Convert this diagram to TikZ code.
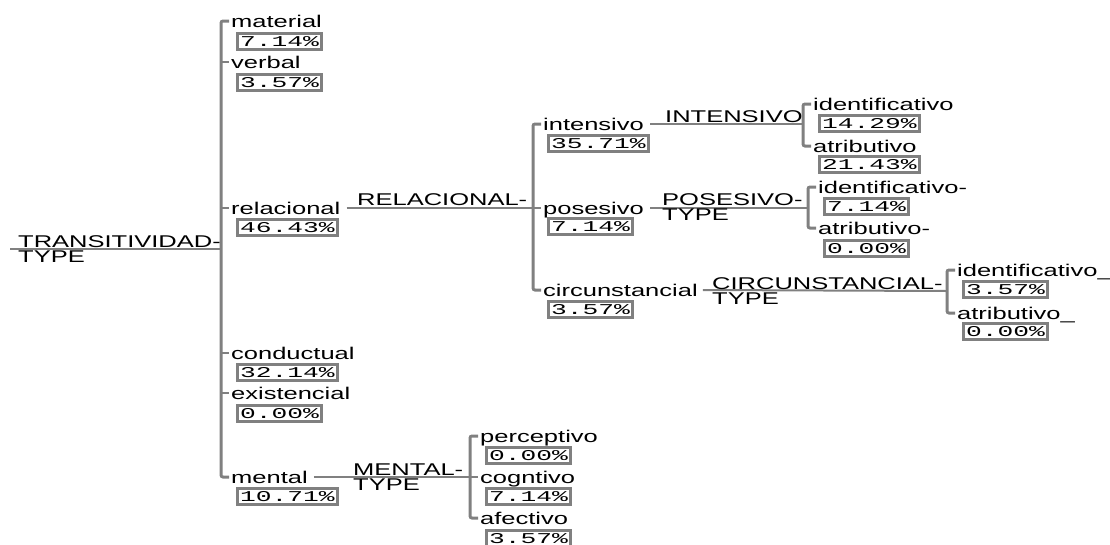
\documentclass[tikz,border=0pt]{standalone}
\usepackage{fontspec}
\setmainfont{Liberation Sans}
\newfontfamily\treefont[FakeStretch=1.5]{Liberation Sans}
\newfontfamily\pctfont[FakeStretch=1.75]{Liberation Mono}
\definecolor{branchgray}{RGB}{128,128,128}
\tikzset{
  leaf/.style={font=\treefont\fontsize{17}{15}\selectfont, inner sep=0pt,
    text height=12.5pt, text depth=0pt, anchor=west},
  kind/.style={font=\treefont\fontsize{17}{15}\selectfont, inner sep=0pt,
    align=left, anchor=base west},
  pct/.style={draw=branchgray, line width=2.5pt, font=\pctfont\fontsize{15}{15}\selectfont,
    inner xsep=2.75pt, inner ysep=3pt, text height=10pt, text depth=0pt, anchor=north west},
  bar/.style={draw=branchgray, line width=3pt, rounded corners=2pt},
  link/.style={draw=branchgray, line width=2pt},
}
\begin{document}
\begin{tikzpicture}[x=1pt,y=-1pt]
  \useasboundingbox (0,0) rectangle (1110,544);

  % root (base of a two-line node is its last line)
  \node[kind] (transitividad) at (18,262) {TRANSITIVIDAD-\\TYPE};
  \coordinate (rootEnd) at (10,249);
  \coordinate (jProc) at (221,249);
  \draw[link] (rootEnd) -- (jProc);

  % process types
  \draw[bar] (229,21) -- (221,21) -- (221,477) -- (229,477);
  \foreach \y in {62,208,353,393}
    \draw[link] (221,\y) -- (229,\y);
  \node[leaf] (material) at (231,21) {material};
  \node[pct] (pMaterial) at (236,32) {7.14\%};
  \node[leaf] (verbal) at (231,62) {verbal};
  \node[pct] (pVerbal) at (236,73) {3.57\%};
  \node[leaf] (relacional) at (231,208) {relacional};
  \node[pct] (pRelacional) at (236,218) {46.43\%};
  \node[leaf] (conductual) at (231,353) {conductual};
  \node[pct] (pConductual) at (236,363) {32.14\%};
  \node[leaf] (existencial) at (231,393) {existencial};
  \node[pct] (pExistencial) at (236,404) {0.00\%};
  \node[leaf] (mental) at (231,477) {mental};
  \node[pct] (pMental) at (236,487) {10.71\%};

  % relacional
  \coordinate (jRel) at (533,208);
  \draw[link] ([xshift=6pt]relacional.east) -- (jRel);
  \node[kind] (relType) at (357,205) {RELACIONAL-};
  \draw[bar] (541,124) -- (533,124) -- (533,290) -- (541,290);
  \draw[link] (533,208) -- (541,208);
  \node[leaf] (intensivo) at (543,124) {intensivo};
  \node[pct] (pIntensivo) at (547,134) {35.71\%};
  \node[leaf] (posesivo) at (543,208) {posesivo};
  \node[pct] (pPosesivo) at (547,217) {7.14\%};
  \node[leaf] (circunstancial) at (543,290) {circunstancial};
  \node[pct] (pCircunstancial) at (547,300) {3.57\%};

  % intensivo
  \coordinate (jInt) at (803,124);
  \draw[link] ([xshift=6pt]intensivo.east) -- (jInt);
  \node[kind] (intType) at (665,122) {INTENSIVO};
  \draw[bar] (811,104) -- (803,104) -- (803,146) -- (811,146);
  \node[leaf] (intIdent) at (813,104) {identificativo};
  \node[pct] (pIntIdent) at (818,114) {14.29\%};
  \node[leaf] (intAtrib) at (813,146) {atributivo};
  \node[pct] (pIntAtrib) at (818,155) {21.43\%};

  % posesivo
  \coordinate (jPos) at (808,208);
  \draw[link] ([xshift=6pt]posesivo.east) -- (jPos);
  \node[kind] (posType) at (662,220) {POSESIVO-\\TYPE};
  \draw[bar] (816,187) -- (808,187) -- (808,228) -- (816,228);
  \node[leaf] (posIdent) at (818,187) {identificativo-};
  \node[pct] (pPosIdent) at (823,197) {7.14\%};
  \node[leaf] (posAtrib) at (818,228) {atributivo-};
  \node[pct] (pPosAtrib) at (823,239) {0.00\%};

  % circunstancial
  \coordinate (jCirc) at (947,291);
  \draw[link] ([xshift=5pt]circunstancial.east) -- (jCirc);
  \node[kind] (circType) at (712,304) {CIRCUNSTANCIAL-\\TYPE};
  \draw[bar] (955,270) -- (947,270) -- (947,313) -- (955,313);
  \node[leaf] (circIdent) at (957,270) {identificativo\_};
  \node[pct] (pCircIdent) at (962,280) {3.57\%};
  \node[leaf] (circAtrib) at (957,313) {atributivo\_};
  \node[pct] (pCircAtrib) at (962,322) {0.00\%};

  % mental
  \coordinate (jMen) at (470,477);
  \draw[link] ([xshift=6pt]mental.east) -- (jMen);
  \node[kind] (menType) at (353,490) {MENTAL-\\TYPE};
  \draw[bar] (478,436) -- (470,436) -- (470,518) -- (478,518);
  \draw[link] (470,477) -- (478,477);
  \node[leaf] (perceptivo) at (480,436) {perceptivo};
  \node[pct] (pPerceptivo) at (485,446) {0.00\%};
  \node[leaf] (cogntivo) at (480,477) {cogntivo};
  \node[pct] (pCogntivo) at (485,487) {7.14\%};
  \node[leaf] (afectivo) at (480,518) {afectivo};
  \node[pct] (pAfectivo) at (485,529) {3.57\%};
\end{tikzpicture}
\end{document}
